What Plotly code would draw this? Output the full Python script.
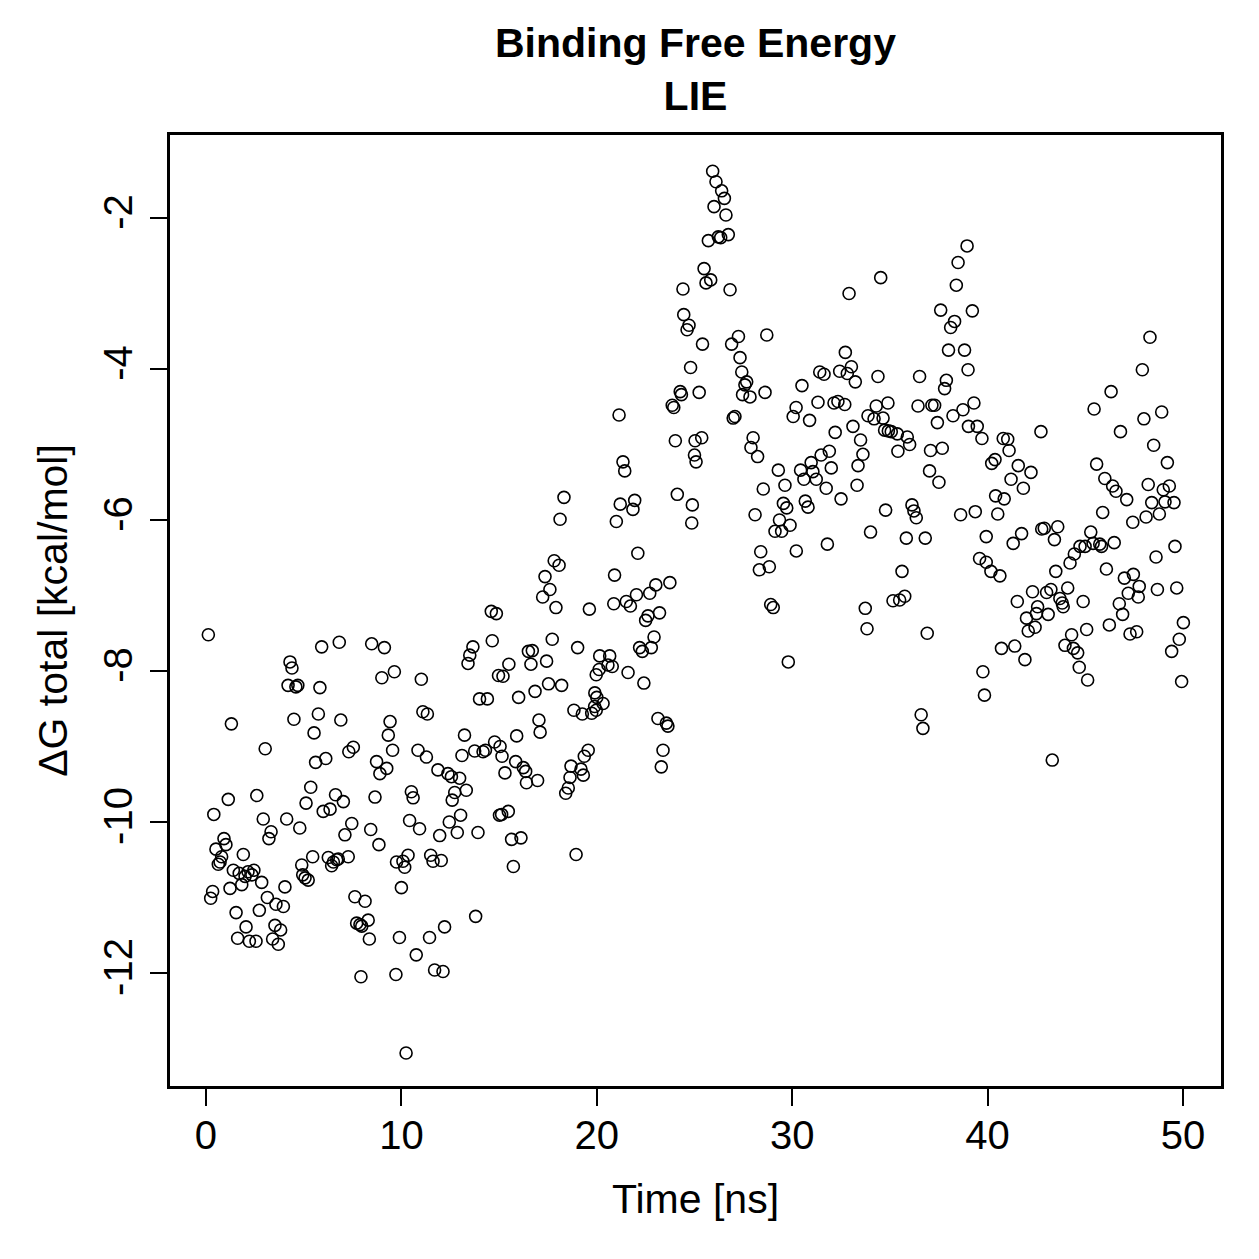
import plotly.graph_objects as go

time_ns = [
 0.12,0.24,0.34,0.4,0.51,0.63,0.72,0.8,0.92,1.02,1.14,1.23,1.3,1.4,1.54,1.62,1.7,1.83,1.91,2.0,
 2.05,2.15,2.22,2.35,2.45,2.56,2.6,2.73,2.85,2.93,3.03,3.14,3.22,3.33,3.41,3.53,3.58,3.7,3.82,3.96,
 4.04,4.13,4.2,4.3,4.4,4.5,4.6,4.7,4.8,4.9,4.95,5.07,
 5.12,5.23,5.36,5.46,5.53,5.61,5.75,5.83,5.92,6.0,6.13,6.26,6.35,6.43,6.52,6.63,6.69,6.77,6.82,6.9,
 7.03,7.11,7.28,7.31,7.46,7.54,7.62,7.71,7.88,7.93,7.97,8.14,8.3,8.36,8.43,8.48,8.65,8.73,8.85,8.9,
 9.0,9.13,9.25,9.33,9.42,9.55,9.64,9.72,9.75,9.9,10.0,
 10.08,10.17,10.24,10.34,10.42,10.51,10.6,10.76,10.85,10.93,11.02,11.1,11.28,11.33,11.44,11.5,11.62,
 11.7,11.87,11.96,12.04,12.13,12.21,12.38,12.45,12.56,12.6,12.73,12.86,12.98,13.03,13.1,13.23,13.32,
 13.41,13.5,13.66,13.75,13.8,13.92,14.0,14.18,14.3,14.4,14.6,14.65,14.77,14.86,14.97,15.02,
 15.05,15.15,15.13,15.2,15.3,15.47,15.5,15.64,15.73,15.85,15.9,16.0,16.12,16.24,16.36,16.4,16.5,16.63,
 16.7,16.84,16.97,17.04,17.1,17.23,17.35,17.43,17.53,17.6,17.72,17.82,17.91,18.07,18.12,18.2,18.32,
 18.41,18.54,18.63,18.68,18.83,18.94,19.02,19.19,19.26,19.31,19.36,19.56,19.62,19.74,19.89,19.97,
 19.9,20.0,19.97,20.12,
 20.15,20.32,20.57,20.66,20.79,20.87,20.91,21.0,21.14,21.2,21.34,21.43,21.51,21.6,21.72,21.85,21.94,
 22.03,22.1,22.19,22.33,22.41,22.5,22.62,22.71,22.79,22.93,23.02,23.13,23.21,23.3,23.39,23.56,23.64,
 23.74,23.86,23.94,24.02,24.12,24.27,24.33,24.41,24.45,24.62,24.72,24.8,24.86,24.89,25.0,
 25.03,25.08,25.24,25.37,25.41,25.49,25.59,25.71,25.83,25.93,26.0,26.1,26.22,26.34,26.39,26.53,26.61,
 26.73,26.82,26.9,26.98,27.07,27.25,27.33,27.42,27.46,27.58,27.67,27.84,27.89,28.0,28.1,28.23,28.32,
 28.39,28.52,28.61,28.7,28.83,28.9,29.03,29.12,29.29,29.35,29.46,29.55,29.63,29.72,29.8,29.89,
 30.05,30.2,30.21,30.43,30.5,30.6,30.67,30.81,30.89,30.97,31.06,31.23,31.32,31.41,31.48,31.63,31.74,
 31.8,31.9,32.0,32.14,32.2,32.34,32.43,32.5,32.69,32.72,32.82,32.91,33.03,33.11,33.23,33.32,33.37,
 33.5,33.62,33.74,33.83,33.88,34.01,34.19,34.3,34.39,34.53,34.65,34.73,34.78,34.9,34.92,35.07,
 35.16,35.38,35.41,35.5,35.62,35.76,35.84,35.89,36.01,36.13,36.23,36.35,36.44,36.52,36.6,36.69,36.81,
 36.91,37.03,37.08,37.15,37.29,37.43,37.51,37.6,37.68,37.8,37.89,38.0,38.11,38.23,38.31,38.4,38.49,
 38.62,38.74,38.82,38.95,39.0,39.02,39.22,39.3,39.37,39.47,39.59,39.71,39.76,39.84,39.93,39.93,
 40.17,40.21,40.38,40.41,40.52,40.63,40.71,40.8,40.85,41.03,41.1,41.2,41.31,41.39,41.52,41.57,41.74,
 41.83,41.91,41.99,42.08,42.22,42.3,42.43,42.5,42.56,42.73,42.77,42.9,43.02,43.1,43.24,43.31,43.42,
 43.49,43.59,43.7,43.82,43.87,43.96,44.1,44.22,44.3,44.39,44.44,44.61,44.69,44.73,44.89,44.99,
 45.07,45.12,45.28,45.45,45.4,45.58,45.74,45.83,45.89,46.0,46.08,46.23,46.32,46.4,46.48,46.57,46.74,
 46.8,46.91,47.0,47.12,47.2,47.29,47.43,47.46,47.63,47.71,47.76,47.92,48.0,48.11,48.22,48.31,48.4,
 48.5,48.62,48.69,48.79,48.91,48.99,49.08,49.2,49.3,49.42,49.54,49.59,49.68,49.81,49.93,50.02,
]

dg_total = [
 -7.52,-11.01,-10.92,-9.9,-10.36,-10.56,-10.53,-10.46,-10.22,-10.3,-9.7,-10.88,-8.7,-10.64,-11.2,-11.54,-10.68,-10.83,-10.43,-10.72,
 -11.39,-10.66,-11.58,-10.7,-10.64,-11.58,-9.65,-11.17,-10.8,-9.96,-9.03,-11.0,-10.22,-10.13,-11.55,-11.37,-11.09,-11.62,-11.43,-11.12,
 -10.86,-9.96,-8.19,-7.88,-7.96,-8.64,-8.21,-8.19,-10.08,-10.57,-10.7,-10.74,
 -9.75,-10.77,-9.54,-10.46,-8.82,-9.21,-8.57,-8.22,-7.68,-9.86,-9.16,-10.47,-9.83,-10.58,-10.53,-9.64,-10.5,-10.49,-7.62,-8.65,
 -9.73,-10.17,-10.46,-9.07,-10.02,-9.01,-10.99,-11.34,-11.36,-12.05,-11.38,-11.05,-11.3,-11.55,-10.1,-7.64,-9.67,-9.2,-10.3,-9.36,
 -8.09,-7.69,-9.29,-8.85,-8.67,-9.05,-8.01,-12.02,-10.53,-11.53,-10.87,
 -10.52,-10.6,-13.06,-10.44,-9.98,-9.6,-9.68,-11.76,-9.05,-10.09,-8.11,-8.54,-9.14,-8.57,-11.53,-10.44,-10.52,
 -11.96,-9.31,-10.18,-10.51,-11.98,-11.39,-9.36,-10.0,-9.4,-9.71,-9.61,-10.14,-9.42,-9.91,-9.12,-8.85,-9.58,
 -7.9,-7.79,-7.68,-9.06,-11.25,-10.14,-8.37,-9.07,-9.05,-8.37,-7.21,-7.6,-8.94,-7.24,-8.06,-9.91,
 -9.0,-9.13,-9.9,-8.07,-9.35,-9.86,-7.91,-10.23,-10.59,-9.2,-8.86,-8.35,-10.21,-9.28,-9.33,-9.48,-7.74,-7.91,
 -7.73,-8.27,-9.45,-8.65,-8.81,-7.02,-6.75,-7.87,-8.17,-6.92,-7.58,-6.54,-7.16,-6.6,-5.99,-8.19,-5.7,
 -9.62,-9.55,-9.41,-9.26,-8.52,-10.43,-7.69,-9.3,-8.57,-9.38,-9.13,-9.05,-7.18,-8.56,-8.47,-8.52,
 -8.29,-8.35,-8.05,-7.98,
 -7.8,-8.43,-7.92,-7.8,-7.94,-7.11,-6.73,-6.02,-4.61,-5.79,-5.23,-5.35,-7.08,-8.02,-7.14,-5.86,-5.74,
 -6.99,-6.44,-7.69,-7.74,-8.16,-7.33,-7.27,-6.97,-7.69,-7.55,-6.86,-8.63,-7.23,-9.27,-9.05,-8.69,-8.73,
 -6.83,-4.48,-4.51,-4.95,-5.66,-4.3,-4.34,-2.94,-3.28,-3.48,-3.42,-3.98,-6.04,-5.8,-5.14,
 -4.95,-5.23,-4.31,-4.91,-3.67,-2.67,-2.86,-2.3,-2.82,-1.38,-1.85,-1.52,-2.25,-2.26,-1.64,-1.74,-1.96,
 -2.22,-2.95,-3.67,-4.65,-4.63,-3.57,-3.85,-4.04,-4.34,-4.21,-4.17,-4.37,-5.04,-4.91,-5.93,-5.16,-6.66,
 -6.42,-5.59,-4.31,-3.55,-6.62,-7.12,-7.16,-6.15,-5.34,-6.0,-6.15,-5.78,-5.54,-5.84,-7.88,-6.07,
 -4.63,-4.51,-6.41,-5.34,-4.22,-5.46,-5.75,-5.83,-4.68,-5.24,-5.36,-5.46,-4.44,-4.04,-5.14,-4.07,-5.58,
 -6.32,-5.09,-5.31,-4.45,-4.84,-4.43,-4.03,-5.72,-4.47,-3.78,-4.06,-3.0,-3.97,-4.76,-4.17,-5.54,-5.28,
 -4.94,-5.13,-7.17,-7.44,-4.62,-6.16,-4.66,-4.49,-4.1,-2.79,-4.65,-4.81,-5.87,-4.45,-4.82,-4.83,
 -7.07,-4.86,-5.09,-7.06,-6.68,-7.01,-6.24,-4.9,-5.0,-5.8,-5.88,-5.97,-4.49,-4.1,-8.58,-8.76,-6.24,
 -7.5,-5.35,-5.08,-4.48,-4.48,-4.71,-5.5,-3.22,-5.05,-4.26,-4.15,-3.75,-3.45,-4.62,-3.37,-2.89,-2.59,
 -5.93,-4.54,-3.75,-2.37,-4.01,-4.76,-3.23,-4.45,-5.89,-4.76,-6.51,-4.92,-8.01,-8.32,-6.22,-6.56,
 -6.68,-5.25,-5.2,-5.68,-5.92,-6.74,-7.7,-4.92,-5.72,-4.93,-5.08,-5.46,-6.31,-7.67,-7.08,-5.28,-6.18,
 -5.58,-7.85,-7.3,-7.47,-5.37,-6.95,-7.42,-7.24,-7.15,-4.83,-6.12,-6.11,-6.96,-7.25,-6.92,-9.18,-6.26,
 -6.68,-6.09,-7.04,-7.1,-7.15,-7.66,-6.9,-6.57,-7.52,-7.7,-6.45,-7.76,-7.95,-6.35,-7.08,-6.35,
 -7.45,-8.12,-6.16,-4.53,-6.31,-5.26,-6.32,-6.35,-5.9,-5.45,-6.65,-7.39,-4.3,-5.55,-6.3,-5.62,-7.11,
 -4.83,-7.25,-6.77,-5.73,-6.97,-7.51,-6.03,-6.72,-7.48,-7.02,-6.88,-4.01,-4.66,-5.96,-5.53,-3.58,-5.77,
 -5.01,-6.49,-6.92,-5.92,-4.57,-5.6,-5.76,-5.24,-5.55,-7.74,-5.77,-6.35,-6.9,-7.58,-8.14,-7.36,
]

x_ticks = [0, 10, 20, 30, 40, 50]
y_ticks = [-12, -10, -8, -6, -4, -2]
y_tick_labels = ["-12", "-10", "-8", "-6", "-4", "-2"]

FONT = "Liberation Sans, Arial, Helvetica, sans-serif"

fig = go.Figure()
fig.add_trace(go.Scatter(
    x=time_ns, y=dg_total, mode="markers",
    marker=dict(symbol="circle-open", size=12, color="black", line=dict(width=1.6, color="black")),
    showlegend=False, hoverinfo="x+y",
))

fig.update_layout(
    width=1259, height=1259,
    margin=dict(l=170, r=38, t=135, b=173),
    paper_bgcolor="white", plot_bgcolor="white",
    font=dict(family=FONT, color="black", size=40),
    title=dict(
        text="<b>Binding Free Energy</b><br><b>LIE</b>",
        x=(170 + 1221) / 2 / 1259, xanchor="center",
        y=1 - 57 / 1259, yanchor="top", yref="container",
        font=dict(family=FONT, size=41, color="black"),
    ),
    xaxis=dict(
        range=[-1.842, 51.945], tickvals=x_ticks, ticks="outside", ticklen=17, tickwidth=2,
        tickcolor="black", showline=True, linecolor="black", linewidth=2.5, mirror=True,
        showgrid=False, zeroline=False, tickfont=dict(size=40),
        title=dict(text="Time [ns]", font=dict(size=41), standoff=29),
        ticklabelstandoff=-5,
    ),
    yaxis=dict(
        range=[-13.497, -0.9007], tickvals=y_ticks, ticktext=y_tick_labels, ticks="outside",
        ticklen=17, tickwidth=2, tickcolor="black", showline=True, linecolor="black",
        linewidth=2.5, mirror=True, showgrid=False, zeroline=False, tickangle=-90,
        tickfont=dict(size=40),
        title=dict(text="ΔG total [kcal/mol]", font=dict(size=41), standoff=16),
        ticklabelstandoff=2,
    ),
)

fig.write_html("out.html")
